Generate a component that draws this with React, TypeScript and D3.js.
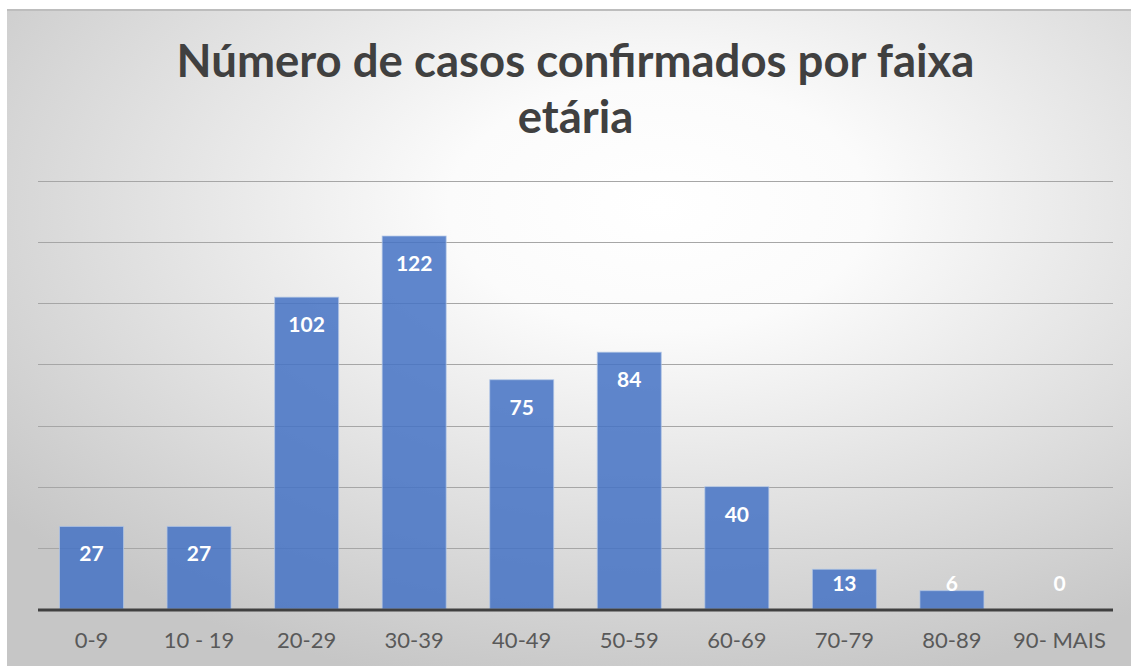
import React from "react";
import * as d3 from "d3";

const categories = ["0-9", "10 - 19", "20-29", "30-39", "40-49", "50-59", "60-69", "70-79", "80-89", "90- MAIS"];
const casos = [27, 27, 102, 122, 75, 84, 40, 13, 6, 0];
const yTicks = [20, 40, 60, 80, 100, 120, 140];
const titleLines = ["Número de casos confirmados por faixa", "etária"];

const W = 1131;
const H = 666;
const font = "Lato, 'Open Sans', sans-serif";

export default function App() {
  const x = d3.scaleBand<string>().domain(categories).range([38, 1113]).paddingInner(0.405).paddingOuter(0.2);
  const y = d3.scaleLinear().domain([0, 140]).range([609, 181]);

  return (
    <svg width={W} height={H} style={{ position: "absolute", left: 0, top: 0 }}>
      <defs>
        <radialGradient id="bg" cx="0.58" cy="0.3" r="0.75">
          <stop offset="0" stopColor="#ffffff" />
          <stop offset="0.25" stopColor="#fbfbfb" />
          <stop offset="1" stopColor="#c6c6c6" />
        </radialGradient>
      </defs>
      <rect x={7} y={9} width={W - 7} height={H - 9} fill="url(#bg)" />
      <line x1={7} x2={W} y1={10} y2={10} stroke="#bdbdbd" strokeWidth={2} />

      {titleLines.map((t, i) => (
        <text key={i} x={575.5} y={77 + i * 56} textAnchor="middle" fontFamily={font}
          fontWeight="bold" fontSize={45.5} fill="#404040">{t}</text>
      ))}

      {yTicks.map((t) => (
        <line key={t} x1={38} x2={1113} y1={Math.round(y(t)) + 0.5} y2={Math.round(y(t)) + 0.5}
          stroke="#a6a6a6" strokeWidth={1} />
      ))}

      {casos.map((v, i) => {
        const c = categories[i];
        const bx = x(c)!;
        const top = y(v);
        const ly = Math.min(top + 35, y(0) - 18);
        return (
          <g key={c}>
            {v > 0 && (
              <rect x={bx} y={top} width={x.bandwidth()} height={y(0) - top}
                fill="#4472c4" fillOpacity={0.85} stroke="#b4c7e7" strokeOpacity={0.7} strokeWidth={1} />
            )}
            <text x={bx + x.bandwidth() / 2} y={ly} textAnchor="middle" fontFamily={font}
              fontWeight="bold" fontSize={21} fill="#ffffff">{v}</text>
          </g>
        );
      })}

      <line x1={38} x2={1113} y1={610} y2={610} stroke="#404040" strokeWidth={3} />

      {categories.map((c) => (
        <text key={c} x={x(c)! + x.bandwidth() / 2} y={648} textAnchor="middle" fontFamily={font}
          fontSize={22} fill="#595959">{c}</text>
      ))}
    </svg>
  );
}
